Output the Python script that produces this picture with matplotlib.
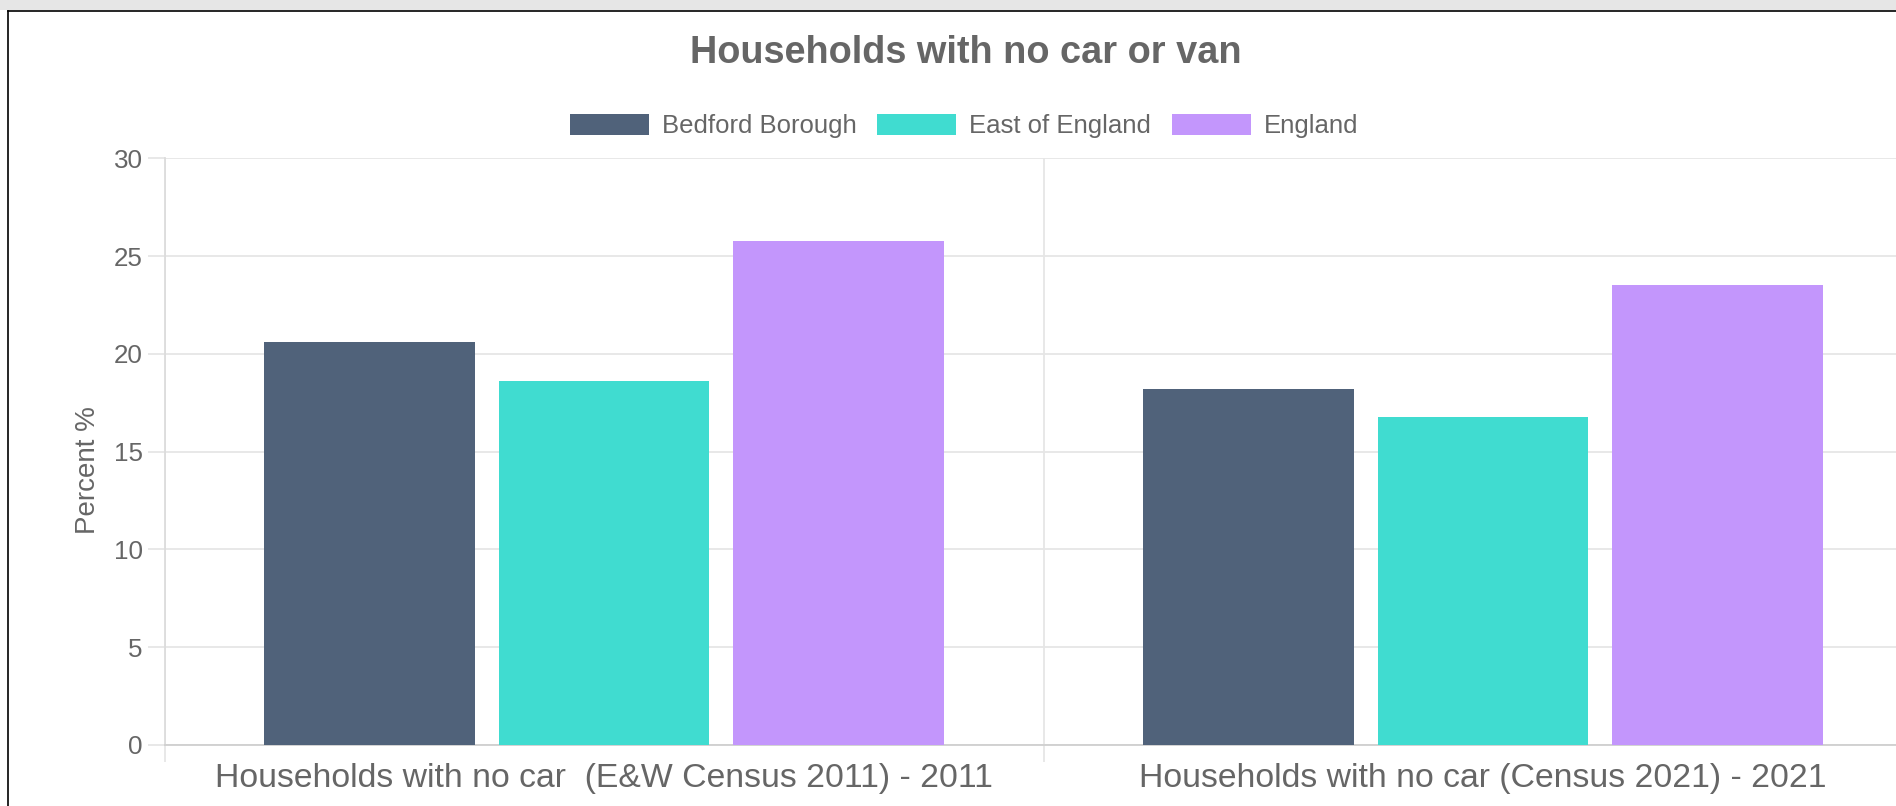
import numpy as np
import matplotlib
matplotlib.use("Agg")
import matplotlib.pyplot as plt
from matplotlib.patches import Patch, Rectangle
from matplotlib.lines import Line2D

# ---- data ----
categories = ["Households with no car  (E&W Census 2011) - 2011",
              "Households with no car (Census 2021) - 2021"]
series_names = ["Bedford Borough", "East of England", "England"]
bedford = [20.6, 18.2]
east_of_england = [18.6, 16.8]
england = [25.8, 23.5]
y_ticks = [0, 5, 10, 15, 20, 25, 30]
title = "Households with no car or van"
y_label = "Percent %"

colors = ["#50627A", "#40DCD0", "#C396FC"]
text_col = "#666666"
grid_col = "#e6e6e6"

plt.rcParams["font.family"] = ["Liberation Sans", "DejaVu Sans"]

W, H = 1896, 806
fig = plt.figure(figsize=(W / 100, H / 100), dpi=100)
fig.patch.set_facecolor("white")

# plot area (extends slightly beyond right edge, as in the reference crop)
x0, x1 = 164.5, 1922.5
y_top, y_bot = 158.4, 745.0
ax = fig.add_axes([x0 / W, (H - y_bot) / H, (x1 - x0) / W, (y_bot - y_top) / H])

xpos = np.arange(len(categories))
cat_pct, bar_pct = 0.8, 0.9
n = len(series_names)
width = cat_pct / n * bar_pct
for i, (name, vals) in enumerate(zip(series_names, [bedford, east_of_england, england])):
    off = (i - (n - 1) / 2) * cat_pct / n
    ax.bar(xpos + off, vals, width, color=colors[i], label=name, zorder=3)

ax.set_xlim(-0.5, len(categories) - 0.5)
ax.set_ylim(0, 30)
ax.set_yticks(y_ticks)
ax.set_xticks(xpos)
ax.set_xticklabels(categories)
ax.set_xticks(np.arange(len(categories) + 1) - 0.5, minor=True)

ax.grid(axis="y", which="major", color=grid_col, lw=1.3, zorder=0)
ax.grid(axis="x", which="minor", color=grid_col, lw=1.3, zorder=0)
ax.set_axisbelow(True)

ax.tick_params(axis="x", which="major", length=0, pad=13, labelsize=24.3, labelcolor=text_col)
ax.tick_params(axis="x", which="minor", length=12.2, color=grid_col, width=1.3)
ax.tick_params(axis="y", length=12.2, color=grid_col, width=1.3, pad=3.5,
               labelsize=18.7, labelcolor=text_col)

for s in ["top", "right"]:
    ax.spines[s].set_visible(False)
ax.spines["left"].set_color("#dcdcdc")
ax.spines["left"].set_linewidth(1.3)
ax.spines["bottom"].set_color("#cfcfcf")
ax.spines["bottom"].set_linewidth(1.3)

# y label
fig.text(95 / W, 1 - 470 / H, y_label, rotation=90, rotation_mode="anchor",
         ha="center", va="baseline", fontsize=20, color=text_col)

# title
fig.text(965.5 / W, 1 - 63.3 / H, title, ha="center", va="baseline",
         fontsize=27.3, fontweight="bold", color=text_col)

# legend
handles = [Patch(facecolor=c, edgecolor="none") for c in colors]
fig.legend(handles, series_names, loc="center", bbox_to_anchor=(964 / W, 1 - 126 / H),
           ncol=3, frameon=False, fontsize=18.5, handlelength=3.08, handleheight=0.92,
           handletextpad=0.5, columnspacing=0.8, labelcolor=text_col, borderpad=0)

# page frame: grey band at top and black card border
fig.add_artist(Rectangle((0, 1 - 10 / H), 1, 10 / H, transform=fig.transFigure,
                         facecolor="#e6e6e6", edgecolor="none", zorder=0))
fig.add_artist(Line2D([7.5 / W, 1], [1 - 10.5 / H, 1 - 10.5 / H], transform=fig.transFigure,
                      color="black", lw=1.2))
fig.add_artist(Line2D([7.5 / W, 7.5 / W], [0, 1 - 10.5 / H], transform=fig.transFigure,
                      color="black", lw=1.2))

fig.savefig("out.png", dpi=100)
